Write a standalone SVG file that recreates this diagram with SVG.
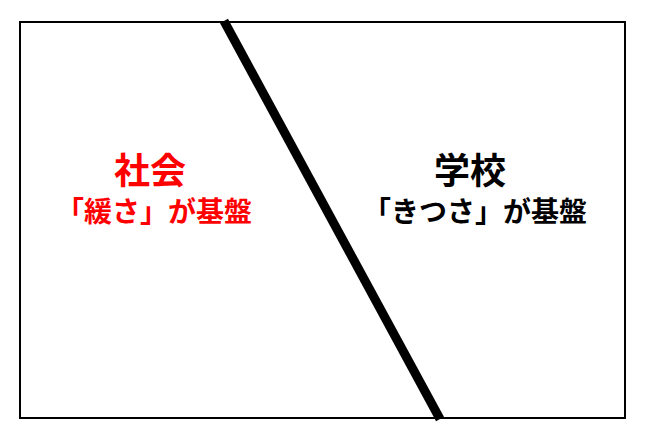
<svg xmlns="http://www.w3.org/2000/svg" width="646" height="440" viewBox="0 0 646 440">
<style>
.t{font-family:"Noto Sans CJK JP","Noto Sans CJK SC",sans-serif;font-weight:bold;text-anchor:middle}
.h{font-size:36px}
.s{font-size:28px}
.red{fill:#ff0000}
.blk{fill:#000000}
</style>
<rect x="0" y="0" width="646" height="440" fill="#ffffff"/>
<g id="frame">
<rect x="20" y="22" width="605" height="396" fill="none" stroke="#000" stroke-width="2"/>
</g>
<g id="connectors">
<line x1="224" y1="21" x2="440" y2="419" stroke="#000" stroke-width="9"/>
</g>
<g id="society">
<text class="t h red" x="150" y="184">社会</text>
<text class="t s red" x="154" y="222">「緩さ」が基盤</text>
</g>
<g id="school">
<text class="t h blk" x="470" y="184">学校</text>
<text class="t s blk" x="475" y="222">「きつさ」が基盤</text>
</g>
</svg>
